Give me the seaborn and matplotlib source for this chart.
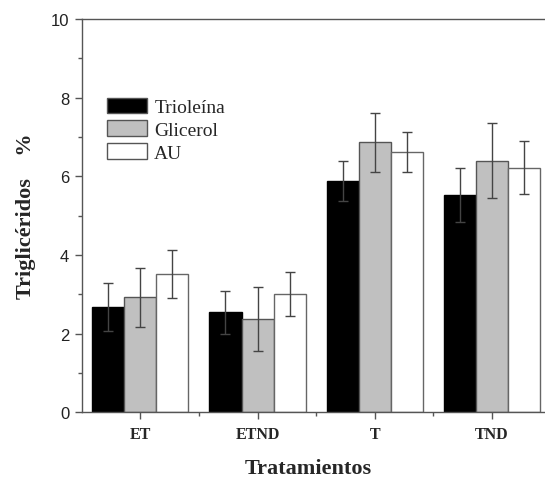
import matplotlib
matplotlib.use("Agg")
import matplotlib.pyplot as plt
from matplotlib.ticker import MultipleLocator, FixedLocator
import seaborn as sns
import pandas as pd
import numpy as np

categories = ["ET", "ETND", "T", "TND"]
series = ["Trioleína", "Glicerol", "AU"]
trioleina = [2.68, 2.54, 5.88, 5.52]
glicerol = [2.92, 2.37, 6.86, 6.40]
au = [3.52, 3.01, 6.61, 6.22]
err_trioleina = [0.61, 0.55, 0.51, 0.68]
err_glicerol = [0.76, 0.82, 0.75, 0.96]
err_au = [0.61, 0.56, 0.51, 0.68]

values = [trioleina, glicerol, au]
errors = [err_trioleina, err_glicerol, err_au]

df = pd.DataFrame({
    "Tratamiento": categories * 3,
    "Serie": [s for s in series for _ in categories],
    "Valor": trioleina + glicerol + au,
})

sns.set_style("ticks")
serif = ["Liberation Serif", "DejaVu Serif"]
sans = ["Liberation Sans", "DejaVu Sans"]

W, H = 545, 481
fig = plt.figure(figsize=(W / 100, H / 100), dpi=100)
left, right, bottom, top = 81.7, 550.6, 413.3, 20.0
ax = fig.add_axes([left / W, 1 - bottom / H, (right - left) / W, (bottom - top) / H])

face = {"Trioleína": "#000000", "Glicerol": "#c0c0c0", "AU": "#ffffff"}
sns.barplot(data=df, x="Tratamiento", y="Valor", hue="Serie", order=categories,
            hue_order=series, palette=face, width=0.82, errorbar=None, ax=ax,
            saturation=1, linewidth=1.0, edgecolor="#555555")

edges = {"Trioleína": "#000000", "Glicerol": "#555555", "AU": "#666666"}
for container, s, errs in zip(ax.containers, series, errors):
    xs = []
    ys = []
    for patch in container:
        patch.set_edgecolor(edges[s])
        xs.append(patch.get_x() + patch.get_width() / 2)
        ys.append(patch.get_height())
    ax.errorbar(xs, ys, yerr=errs, fmt="none", ecolor="#444444", elinewidth=1.0,
                capsize=3.5, capthick=1.0, zorder=5)

ax.set_xlim(-0.5, 3.5)
ax.set_ylim(0, 10)
ax.yaxis.set_major_locator(MultipleLocator(2))
ax.yaxis.set_minor_locator(MultipleLocator(1))
ax.xaxis.set_minor_locator(FixedLocator([0.5, 1.5, 2.5]))

for sp in ["left", "top", "bottom"]:
    ax.spines[sp].set_color("#555555")
    ax.spines[sp].set_linewidth(1.0)
ax.spines["right"].set_visible(False)

ax.tick_params(axis="both", which="major", direction="out", length=5, width=1,
               color="#555555")
ax.tick_params(axis="both", which="minor", direction="out", length=3, width=1,
               color="#555555")
ax.tick_params(axis="x", which="major", pad=5)
ax.tick_params(axis="y", which="major", pad=4)

for lab in ax.get_yticklabels():
    lab.set_fontfamily(sans)
    lab.set_fontsize(12)
    lab.set_color("#222222")
for lab in ax.get_xticklabels():
    lab.set_fontfamily(serif)
    lab.set_fontsize(11.5)
    lab.set_fontweight("bold")

ax.set_xlabel("Tratamientos", fontfamily=serif, fontsize=16, fontweight="bold")
ax.set_ylabel("Triglicéridos    %", fontfamily=serif, fontsize=16, fontweight="bold")
ax.xaxis.set_label_coords(0.4826, -0.117)
ax.yaxis.set_label_coords(-0.098, 0.5)

ax.legend(loc="upper left", bbox_to_anchor=(0.053, 0.80), frameon=False,
          prop={"family": serif, "size": 14}, handlelength=2.1,
          handleheight=0.85, handletextpad=0.35, labelspacing=0.22,
          borderpad=0, borderaxespad=0)

fig.savefig("out.png", dpi=100)
